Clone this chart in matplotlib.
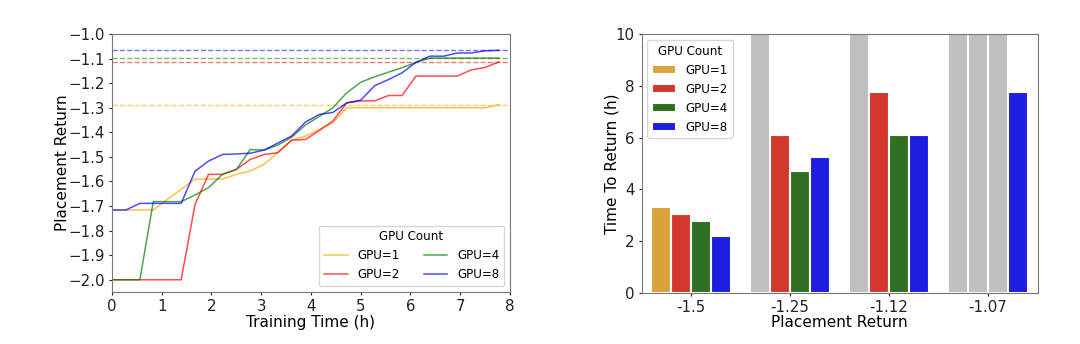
import numpy as np
import matplotlib
matplotlib.use('Agg')
import matplotlib.pyplot as plt

# Trainingstijd (h) en placement return per GPU-aantal
train_time = [0, 0.28, 0.56, 0.83, 1.11, 1.39, 1.67, 1.94, 2.22, 2.5,
              2.78, 3.06, 3.33, 3.61, 3.89, 4.17, 4.44, 4.72, 5.0, 5.28,
              5.56, 5.83, 6.11, 6.39, 6.67, 6.94, 7.22, 7.5, 7.78]

ret_gpu1 = [-1.716, -1.716, -1.716, -1.716, -1.673, -1.632, -1.59, -1.59, -1.59, -1.571,
            -1.557, -1.53, -1.483, -1.432, -1.415, -1.388, -1.361, -1.30, -1.30, -1.30,
            -1.30, -1.30, -1.30, -1.30, -1.30, -1.30, -1.30, -1.30, -1.287]
ret_gpu2 = [-2.0, -2.0, -2.0, -2.0, -2.0, -2.0, -1.693, -1.571, -1.571, -1.551,
            -1.51, -1.49, -1.483, -1.432, -1.429, -1.392, -1.354, -1.28, -1.272, -1.272,
            -1.25, -1.25, -1.171, -1.171, -1.171, -1.171, -1.146, -1.136, -1.113]
ret_gpu4 = [-2.0, -2.0, -2.0, -1.682, -1.682, -1.682, -1.655, -1.625, -1.571, -1.551,
            -1.47, -1.472, -1.452, -1.42, -1.37, -1.335, -1.30, -1.239, -1.196, -1.174,
            -1.155, -1.137, -1.115, -1.098, -1.098, -1.098, -1.098, -1.098, -1.098]
ret_gpu8 = [-1.716, -1.716, -1.689, -1.689, -1.689, -1.689, -1.558, -1.517, -1.49, -1.488,
            -1.485, -1.472, -1.444, -1.415, -1.358, -1.327, -1.319, -1.28, -1.269, -1.21,
            -1.185, -1.158, -1.115, -1.09, -1.09, -1.077, -1.077, -1.068, -1.066]

gpu_labels = ['GPU=1', 'GPU=2', 'GPU=4', 'GPU=8']
line_colors = ['orange', 'red', 'green', 'blue']

# Tijd tot het bereiken van een return (nan = nooit bereikt -> grijze balk)
return_levels = ['-1.5', '-1.25', '-1.12', '-1.07']
ttr_gpu1 = [3.30, np.nan, np.nan, np.nan]
ttr_gpu2 = [3.03, 6.09, 7.75, np.nan]
ttr_gpu4 = [2.76, 4.71, 6.09, np.nan]
ttr_gpu8 = [2.20, 5.26, 6.09, 7.75]
bar_colors = ['#d9a23a', '#d2382c', '#2f6f22', '#1e1ee0']

plt.rcParams['font.family'] = 'DejaVu Sans'
fig = plt.figure(figsize=(10.8, 3.44), dpi=100)
ax1 = fig.add_axes([0.1037, 0.151, 0.3685, 0.750])
ax2 = fig.add_axes([0.594, 0.149, 0.3667, 0.752])

# Links: leercurves
series = [ret_gpu1, ret_gpu2, ret_gpu4, ret_gpu8]
for vals, lab, col in zip(series, gpu_labels, line_colors):
    ax1.plot(train_time, vals, color=col, lw=1.1, alpha=0.7, label=lab)
    ax1.axhline(max(vals), color=col, lw=1.0, ls='--', alpha=0.55)

ax1.set_xlim(0, 8)
ax1.set_ylim(-2.05, -1.0)
ax1.set_xticks(range(0, 9))
ax1.set_yticks(np.round(np.arange(-2.0, -0.95, 0.1), 1))
ax1.set_xlabel('Training Time (h)', fontsize=11, labelpad=0.5)
ax1.set_ylabel('Placement Return', fontsize=11, labelpad=-1)
ax1.legend(title='GPU Count', ncol=2, loc='lower right', fontsize=8.6,
           title_fontsize=8.6, framealpha=0.8)

# Rechts: tijd tot return
ttr = [ttr_gpu1, ttr_gpu2, ttr_gpu4, ttr_gpu8]
x = np.arange(len(return_levels))
w = 0.2
for i, (vals, lab, col) in enumerate(zip(ttr, gpu_labels, bar_colors)):
    pos = x - 0.3 + i * w
    vals = np.array(vals)
    missing = np.isnan(vals)
    ax2.bar(pos[~missing], vals[~missing], width=w, color=col,
            edgecolor='white', linewidth=1.5, label=lab)
    ax2.bar(pos[missing], np.full(missing.sum(), 11.0), width=w,
            color='#bfbfbf', edgecolor='white', linewidth=1.5)

ax2.set_xlim(-0.5, 3.5)
ax2.set_ylim(0, 10)
ax2.set_xticks(x)
ax2.set_xticklabels(return_levels)
ax2.set_yticks(range(0, 11, 2))
ax2.set_xlabel('Placement Return', fontsize=11, labelpad=0.5)
ax2.set_ylabel('Time To Return (h)', fontsize=11, labelpad=-3)
ax2.legend(title='GPU Count', loc='upper left', fontsize=8.6,
           title_fontsize=8.6, framealpha=0.8)

for ax in (ax1, ax2):
    ax.tick_params(labelsize=10.8, colors='#222222', length=2.5, pad=2.5)
    for s in ax.spines.values():
        s.set_color('#777777')

fig.savefig('out.png', dpi=100)
